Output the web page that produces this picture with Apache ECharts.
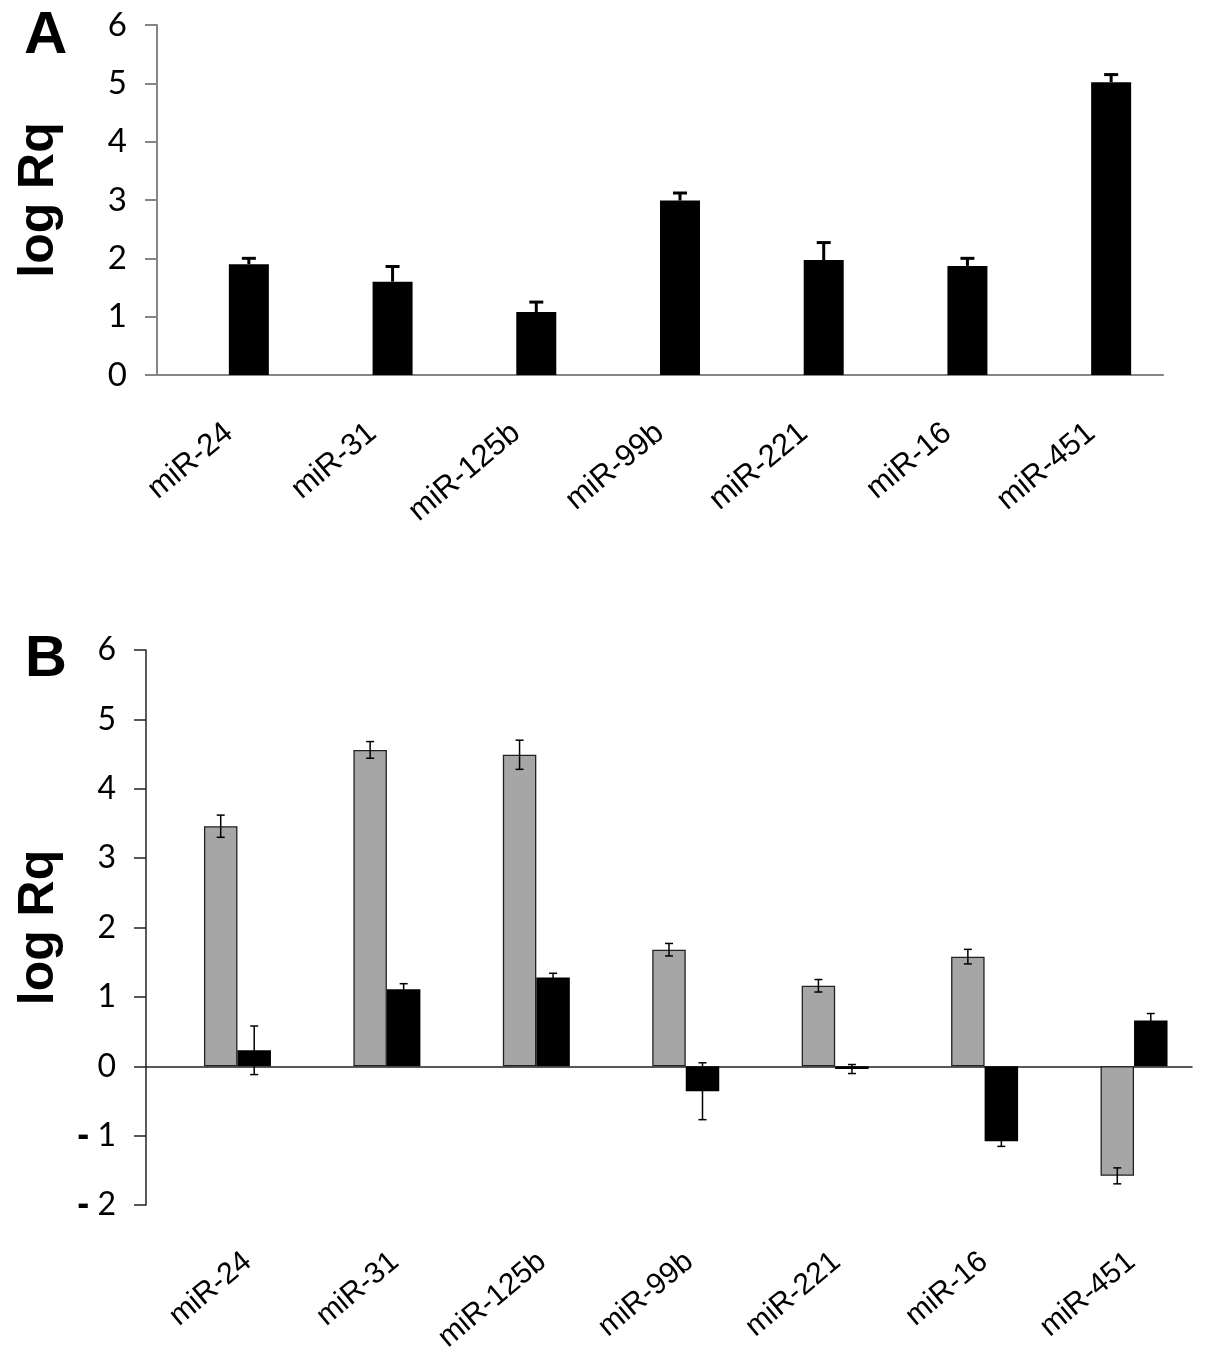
<!DOCTYPE html>
<html>
<head>
<meta charset="utf-8">
<script src="https://cdn.jsdelivr.net/npm/echarts@6/dist/echarts.min.js"></script>
<style>
html,body{margin:0;padding:0;background:#fff;}
#chart{width:1205px;height:1355px;}
</style>
</head>
<body>
<div id="chart"></div>
<script>
// ---- data ----
const categories = ['miR-24', 'miR-31', 'miR-125b', 'miR-99b', 'miR-221', 'miR-16', 'miR-451'];
const aValues = [1.90, 1.60, 1.08, 2.99, 1.97, 1.87, 5.02];
const aErrors = [0.10, 0.26, 0.17, 0.13, 0.30, 0.13, 0.13];
const bGreyValues = [3.46, 4.56, 4.49, 1.68, 1.16, 1.58, -1.58];
const bGreyErrors = [0.16, 0.12, 0.21, 0.09, 0.09, 0.105, 0.115];
const bBlackValues = [0.23, 1.11, 1.28, -0.36, -0.04, -1.08, 0.66];
const bBlackErrors = [0.35, 0.08, 0.06, 0.41, 0.065, 0.075, 0.10];
const aTicks = [0, 1, 2, 3, 4, 5, 6];
const bTicks = [-2, -1, 0, 1, 2, 3, 4, 5, 6];

// ---- styles ----
const A_BAR_W = 40;
const B_BAR_W = 33.5;
const labelFont = 'Liberation Sans, Arial, sans-serif';
const numFont = 'Lato, "Open Sans", sans-serif';

function errSeries(values, errors, xi, yi, slot, nSlots, barW, opt) {
  return {
    type: 'custom',
    xAxisIndex: xi, yAxisIndex: yi,
    z: 5, clip: false, silent: true,
    data: values.map((v, i) => [i, v, errors[i]]),
    renderItem: function (params, api) {
      const idx = api.value(0), v = api.value(1), e = api.value(2);
      const base = api.coord([idx, v]);
      const cx = base[0] + (slot - (nSlots - 1) / 2) * barW;
      const yTop = api.coord([idx, v + e])[1];
      const yBot = opt.upOnly ? base[1] : api.coord([idx, v - e])[1];
      const st = { stroke: '#000', lineWidth: opt.lw };
      const half = opt.cap / 2;
      const children = [
        { type: 'line', shape: { x1: cx, y1: yTop, x2: cx, y2: yBot }, style: st },
        { type: 'line', shape: { x1: cx - half, y1: yTop, x2: cx + half, y2: yTop }, style: st }
      ];
      if (!opt.upOnly) {
        children.push({ type: 'line', shape: { x1: cx - half, y1: yBot, x2: cx + half, y2: yBot }, style: st });
      }
      return { type: 'group', children: children };
    }
  };
}

const chart = echarts.init(document.getElementById('chart'), null, { renderer: 'canvas' });

const option = {
  animation: false,
  backgroundColor: '#fff',
  title: [
    { text: 'A', left: 19, top: 1, textStyle: { fontSize: 60, fontWeight: 'bold', fontFamily: labelFont, color: '#000' } },
    { text: 'B', left: 20, top: 626, textStyle: { fontSize: 58, fontWeight: 'bold', fontFamily: labelFont, color: '#000' } }
  ],
  grid: [
    { left: 157, top: 25, width: 1006, height: 350 },
    { left: 146, top: 650, width: 1046, height: 555 },
    { left: 174, top: 650, width: 1046, height: 555 }
  ],
  xAxis: [
    {
      gridIndex: 0, type: 'category', data: categories,
      axisLine: { lineStyle: { color: '#858585', width: 2 } },
      axisTick: { length: 12, lineStyle: { color: '#858585', width: 2 } },
      axisLabel: { rotate: 40, margin: 54, fontSize: 31, fontFamily: labelFont, color: '#000', interval: 0 }
    },
    {
      gridIndex: 1, type: 'category', data: categories,
      axisLine: { onZero: true, lineStyle: { color: '#222', width: 1.5 } },
      axisTick: { length: 7, lineStyle: { color: '#222', width: 1.5 } },
      axisLabel: { show: false }
    },
    {
      gridIndex: 2, type: 'category', data: categories, position: 'bottom',
      axisLine: { show: false, onZero: false }, axisTick: { show: false },
      axisLabel: { rotate: 40, margin: 58, fontSize: 30, fontFamily: labelFont, color: '#000', interval: 0 }
    }
  ],
  yAxis: [
    {
      gridIndex: 0, type: 'value', min: aTicks[0], max: aTicks[aTicks.length - 1], interval: 1,
      name: 'log Rq', nameLocation: 'middle', nameGap: 93, nameRotate: 90,
      nameTextStyle: { fontSize: 50, fontWeight: 'bold', fontFamily: labelFont, color: '#000' },
      axisLine: { show: true, lineStyle: { color: '#858585', width: 2 } },
      axisTick: { show: true, length: 12, lineStyle: { color: '#858585', width: 2 } },
      splitLine: { show: false },
      axisLabel: { margin: 30, fontSize: 33, fontFamily: numFont, color: '#000' }
    },
    {
      gridIndex: 1, type: 'value', min: bTicks[0], max: bTicks[bTicks.length - 1], interval: 1,
      name: 'log Rq', nameLocation: 'middle', nameGap: 82, nameRotate: 90,
      nameTextStyle: { fontSize: 50, fontWeight: 'bold', fontFamily: labelFont, color: '#000' },
      axisLine: { show: true, onZero: false, lineStyle: { color: '#222', width: 1.5 } },
      axisTick: { show: true, length: 12, lineStyle: { color: '#222', width: 1.5 } },
      splitLine: { show: false },
      axisLabel: {
        margin: 30, fontSize: 32, fontFamily: numFont, color: '#000',
        formatter: function (v) { return v < 0 ? '{d|-} ' + Math.abs(v) : String(v); },
        rich: { d: { fontSize: 36, fontWeight: 'bold', fontFamily: labelFont, color: '#000' } }
      }
    },
    {
      gridIndex: 2, type: 'value', min: bTicks[0], max: bTicks[bTicks.length - 1], show: false
    }
  ],
  series: [
    { type: 'bar', name: 'empty A', xAxisIndex: 0, yAxisIndex: 0, barWidth: A_BAR_W, barGap: '0%', data: categories.map(() => null) },
    { type: 'bar', name: 'A', xAxisIndex: 0, yAxisIndex: 0, barWidth: A_BAR_W, barGap: '0%', data: aValues, itemStyle: { color: '#000' } },
    errSeries(aValues, aErrors, 0, 0, 1, 2, A_BAR_W, { upOnly: true, lw: 3, cap: 14 }),

    { type: 'bar', name: 'empty B', xAxisIndex: 1, yAxisIndex: 1, barWidth: B_BAR_W, barGap: '0%', data: categories.map(() => null) },
    { type: 'bar', name: 'grey', xAxisIndex: 1, yAxisIndex: 1, barWidth: B_BAR_W, barGap: '0%', data: bGreyValues,
      itemStyle: { color: '#a6a6a6', borderColor: '#222', borderWidth: 1.3 } },
    { type: 'bar', name: 'black', xAxisIndex: 1, yAxisIndex: 1, barWidth: B_BAR_W, barGap: '0%', data: bBlackValues,
      itemStyle: { color: '#000' } },
    errSeries(bGreyValues, bGreyErrors, 1, 1, 1, 3, B_BAR_W, { upOnly: false, lw: 1.5, cap: 8 }),
    errSeries(bBlackValues, bBlackErrors, 1, 1, 2, 3, B_BAR_W, { upOnly: false, lw: 1.5, cap: 8 })
  ]
};
chart.setOption(option);
</script>
</body>
</html>
